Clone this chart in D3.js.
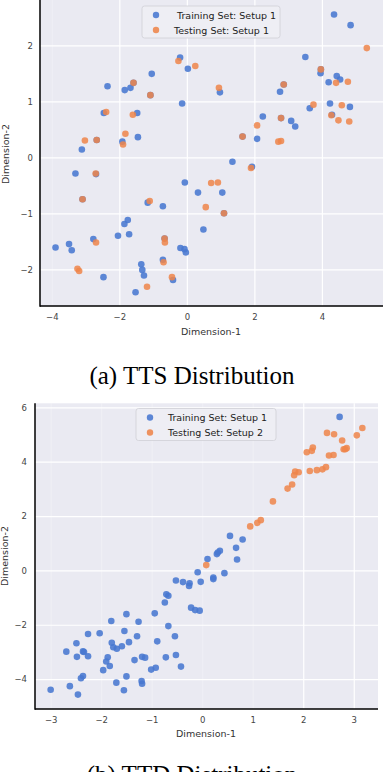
<!DOCTYPE html>
<html>
<head>
<meta charset="utf-8">
<script src="https://cdn.jsdelivr.net/npm/d3@7"></script>
<style>
  body { margin: 0; background: #fff; }
  svg { display: block; }
</style>
</head>
<body>
<svg id="chart" width="384" height="772"></svg>
<script>
// (a) TTS: training setup 1 vs testing setup 1  -- [dim1, dim2]
const ttsTrain = [
  [4.36, 2.55], [4.85, 2.36], [-0.20, 1.78], [0.03, 1.58], [-1.04, 1.49], [-2.35, 1.27],
  [-1.84, 1.20], [-1.67, 1.24], [-0.14, 0.96], [-2.46, 0.79], [-1.47, 0.79], [-1.45, 0.36],
  [-1.91, 0.28], [-3.11, 0.14], [-3.30, -0.29], [0.98, 1.16], [1.35, -0.08], [1.93, -0.17],
  [2.08, 0.33], [2.25, 0.73], [2.76, 1.17], [3.09, 0.65], [3.21, 0.55], [3.51, 1.79],
  [3.64, 0.875], [3.96, 1.50], [4.20, 1.34], [4.24, 0.96], [4.30, 0.76], [4.44, 1.45],
  [4.54, 1.39], [4.83, 0.90], [-0.06, -0.45], [0.33, -0.63], [1.05, -0.63], [-1.16, -0.81],
  [-0.71, -0.875], [-1.75, -1.12], [-1.85, -1.19], [-1.71, -1.375], [-2.04, -1.40], [-2.77, -1.46],
  [-3.89, -1.61], [-3.49, -1.55], [-3.41, -1.66], [0.49, -1.29], [-0.19, -1.62], [-0.07, -1.64],
  [-0.03, -1.70], [-0.71, -1.83], [-1.35, -1.91], [-1.32, -2.01], [-1.27, -2.11], [-2.47, -2.14],
  [-0.41, -2.19], [-1.52, -2.41], [-1.58, 1.33], [-1.08, 1.11], [1.65, 0.37], [2.79, 0.70],
  [2.87, 1.30], [-2.69, -0.30], [-2.67, 0.31], [-3.09, -0.75], [1.10, -1.0], [-0.66, -1.45],
  [3.97, 1.57]
];
const ttsTest = [
  [5.33, 1.95], [-0.25, 1.72], [0.25, 1.63], [-1.58, 1.33], [-1.08, 1.11], [-2.39, 0.81],
  [-1.60, 0.76], [-1.82, 0.42], [-1.89, 0.23], [-3.02, 0.30], [-2.67, 0.31], [-2.70, -0.29],
  [0.95, 1.24], [1.65, 0.37], [2.08, 0.57], [1.90, -0.19], [2.79, 0.70], [2.87, 1.30],
  [2.71, 0.28], [2.79, 0.29], [3.75, 0.94], [3.97, 1.57], [4.28, 0.75], [4.42, 1.33],
  [4.49, 0.66], [4.59, 0.93], [4.77, 1.35], [4.81, 0.64], [0.72, -0.46], [0.92, -0.45],
  [-3.09, -0.75], [-1.10, -0.78], [0.56, -0.89], [1.10, -1.0], [-0.66, -1.45], [-0.65, -1.52],
  [-2.69, -1.52], [-3.24, -1.99], [-3.19, -2.03], [-0.69, -1.875], [-0.44, -2.14], [-1.18, -2.31]
];

// (b) TTD: training setup 1 vs testing setup 2
const ttdTrain = [
  [2.72, 5.65], [0.55, 1.27], [0.67, 0.83], [0.80, 1.14], [0.69, 0.40], [0.35, 0.72],
  [0.29, 0.60], [0.31, 0.66], [0.105, 0.42], [-0.09, -0.07], [-0.52, -0.37], [-0.38, -0.43],
  [-0.25, -0.47], [-0.26, -0.57], [-0.03, -0.42], [0.22, -0.26], [0.22, -0.32], [0.44, -0.10],
  [-0.71, -0.88], [-0.67, -0.93], [-0.74, -1.18], [-0.22, -1.37], [-0.14, -1.46], [-0.05, -1.48],
  [-0.94, -1.58], [-1.50, -1.61], [-1.80, -1.86], [-1.26, -1.89], [-0.67, -2.05], [-2.03, -2.31],
  [-2.26, -2.34], [-1.54, -2.23], [-1.29, -2.42], [-0.54, -2.42], [-0.89, -2.61], [-2.49, -2.68],
  [-1.79, -2.66], [-1.45, -2.64], [-1.59, -2.79], [-1.76, -2.83], [-1.69, -2.88], [-2.69, -2.99],
  [-2.36, -2.98], [-2.34, -3.0], [-2.26, -3.16], [-2.48, -3.18], [-1.87, -3.20], [-1.90, -3.35],
  [-1.83, -3.52], [-1.34, -3.30], [-1.19, -3.18], [-1.13, -3.21], [-0.72, -3.20], [-0.52, -3.11],
  [-0.42, -3.54], [-0.92, -3.58], [-1.01, -3.65], [-1.96, -3.67], [-1.50, -3.90], [-2.36, -3.89],
  [-2.40, -3.97], [-1.70, -4.13], [-1.20, -4.07], [-1.19, -4.17], [-2.62, -4.26], [-3.00, -4.39],
  [-1.55, -4.41], [-2.46, -4.57]
];
const ttdTest = [
  [3.17, 5.24], [3.06, 4.97], [2.47, 5.06], [2.61, 5.01], [2.77, 4.78], [2.80, 4.46],
  [2.86, 4.50], [2.83, 4.46], [2.07, 4.35], [2.17, 4.40], [2.19, 4.52], [2.51, 4.23],
  [2.60, 4.25], [2.13, 3.66], [2.27, 3.69], [2.38, 3.72], [2.45, 3.80], [1.84, 3.64],
  [1.91, 3.61], [1.82, 3.50], [1.78, 3.16], [1.69, 3.01], [1.40, 2.54], [1.16, 1.85],
  [1.09, 1.75], [0.95, 1.62], [0.08, 0.195]
];

const ttsXTicks = [-4, -2, 0, 2, 4];
const ttsYTicks = [-2, -1, 0, 1, 2];
const ttdXTicks = [-3, -2, -1, 0, 1, 2, 3];
const ttdYTicks = [-4, -2, 0, 2, 4, 6];

const ttsLegend = ['Training Set: Setup 1', 'Testing Set: Setup 1'];
const ttdLegend = ['Training Set: Setup 1', 'Testing Set: Setup 2'];

const blue = '#4878d0';
const orange = '#ee854a';
const font = '"DejaVu Sans", sans-serif';
const fmt = d3.format('d');
const svg = d3.select('#chart');

const drawPanel = cfg => {
  const x = d3.scaleLinear().domain(cfg.xDomain).range([cfg.left, cfg.right]);
  const y = d3.scaleLinear().domain(cfg.yDomain).range([cfg.bottom, cfg.top]);
  const g = svg.append('g');

  g.append('rect')
    .attr('x', cfg.left)
    .attr('y', cfg.top)
    .attr('width', cfg.right - cfg.left)
    .attr('height', cfg.bottom - cfg.top)
    .attr('fill', '#eaeaf2');

  // grid
  g.append('g')
    .attr('transform', `translate(0,${cfg.bottom})`)
    .call(d3.axisBottom(x).tickValues(cfg.xTicks).tickSize(-(cfg.bottom - cfg.top)).tickFormat(''))
    .call(a => a.select('.domain').remove())
    .call(a => a.selectAll('line')
      .attr('stroke', '#fff')
      .attr('stroke-width', 1.2)
      .attr('stroke-opacity', d => (cfg.faintX(d) ? 0.25 : 1)));

  g.append('g')
    .attr('transform', `translate(${cfg.left},0)`)
    .call(d3.axisLeft(y).tickValues(cfg.yTicks).tickSize(-(cfg.right - cfg.left)).tickFormat(''))
    .call(a => a.select('.domain').remove())
    .call(a => a.selectAll('line').attr('stroke', '#fff').attr('stroke-width', 1.2));

  // points
  g.append('g')
    .selectAll('circle')
    .data(cfg.train)
    .join('circle')
    .attr('cx', d => x(d[0]))
    .attr('cy', d => y(d[1]))
    .attr('r', 3.3)
    .attr('fill', blue)
    .attr('fill-opacity', 0.88);

  g.append('g')
    .selectAll('circle')
    .data(cfg.test)
    .join('circle')
    .attr('cx', d => x(d[0]))
    .attr('cy', d => y(d[1]))
    .attr('r', 3.3)
    .attr('fill', orange)
    .attr('fill-opacity', 0.85);

  // tick labels
  g.append('g')
    .attr('transform', `translate(0,${cfg.bottom})`)
    .call(d3.axisBottom(x).tickValues(cfg.xTicks).tickFormat(fmt).tickSize(0).tickPadding(cfg.xPad))
    .call(a => a.select('.domain').remove())
    .call(a => a.selectAll('text')
      .attr('font-family', font)
      .attr('font-size', 8.5)
      .attr('fill', '#444'));

  g.append('g')
    .attr('transform', `translate(${cfg.left},0)`)
    .call(d3.axisLeft(y).tickValues(cfg.yTicks).tickFormat(fmt).tickSize(0).tickPadding(cfg.yPad))
    .call(a => a.select('.domain').remove())
    .call(a => a.selectAll('text')
      .attr('font-family', font)
      .attr('font-size', 8.5)
      .attr('fill', '#444'));

  // spines
  g.append('line')
    .attr('x1', cfg.left).attr('x2', cfg.left)
    .attr('y1', cfg.top).attr('y2', cfg.bottom + 0.75)
    .attr('stroke', '#000').attr('stroke-width', 1.5);
  g.append('line')
    .attr('x1', cfg.left).attr('x2', cfg.right)
    .attr('y1', cfg.bottom).attr('y2', cfg.bottom)
    .attr('stroke', '#000').attr('stroke-width', 1.5);

  // axis titles
  g.append('text')
    .attr('x', cfg.xLabelX)
    .attr('y', cfg.xLabelY)
    .attr('text-anchor', 'middle')
    .attr('font-family', font)
    .attr('font-size', 9.5)
    .attr('fill', '#333')
    .text('Dimension-1');

  g.append('text')
    .attr('transform', `translate(${cfg.yLabelX},${cfg.yLabelY}) rotate(-90)`)
    .attr('text-anchor', 'middle')
    .attr('font-family', font)
    .attr('font-size', 9.5)
    .attr('fill', '#333')
    .text('Dimension-2');

  // legend
  const lg = g.append('g').attr('transform', `translate(${cfg.legendX},${cfg.legendY})`);
  lg.append('rect')
    .attr('width', cfg.legendW)
    .attr('height', 32)
    .attr('rx', 2.5)
    .attr('fill', '#eeeef4')
    .attr('stroke', '#cfcfd6')
    .attr('stroke-width', 0.8);
  lg.selectAll('circle')
    .data(cfg.legend)
    .join('circle')
    .attr('cx', 14)
    .attr('cy', (d, i) => 9 + 15 * i)
    .attr('r', 3.2)
    .attr('fill', (d, i) => (i === 0 ? blue : orange))
    .attr('fill-opacity', 0.88);
  lg.selectAll('text')
    .data(cfg.legend)
    .join('text')
    .attr('x', (d, i) => cfg.legendTextX[i])
    .attr('y', (d, i) => 12.5 + 15 * i)
    .attr('font-family', font)
    .attr('font-size', 9.5)
    .attr('fill', '#222')
    .text(d => d);

  // caption
  svg.append('text')
    .attr('x', 192)
    .attr('y', cfg.captionY)
    .attr('text-anchor', 'middle')
    .attr('font-family', '"Liberation Serif", "Times New Roman", serif')
    .attr('font-size', 25)
    .attr('fill', '#000')
    .text(cfg.caption);
};

drawPanel({
  train: ttsTrain, test: ttsTest,
  xTicks: ttsXTicks, yTicks: ttsYTicks,
  xDomain: [-4.35, 5.81], yDomain: [-2.655, 2.85],
  left: 40, right: 383, top: -2.3, bottom: 306,
  xPad: 8, yPad: 7,
  faintX: d => d === -4,
  xLabelX: 211, xLabelY: 335, yLabelX: 9, yLabelY: 154,
  legend: ttsLegend, legendX: 142, legendY: 6, legendW: 138, legendTextX: [35, 32],
  caption: '(a) TTS Distribution', captionY: 384
});

drawPanel({
  train: ttdTrain, test: ttdTest,
  xTicks: ttdXTicks, yTicks: ttdYTicks,
  xDomain: [-3.31, 3.48], yDomain: [-5.1, 6.15],
  left: 35, right: 378, top: 403.3, bottom: 709,
  xPad: 8, yPad: 8,
  faintX: d => d <= 1,
  xLabelX: 206, xLabelY: 737, yLabelX: 8, yLabelY: 556,
  legend: ttdLegend, legendX: 136, legendY: 408.5, legendW: 140, legendTextX: [32, 32],
  caption: '(b) TTD Distribution', captionY: 783
});
</script>
</body>
</html>
